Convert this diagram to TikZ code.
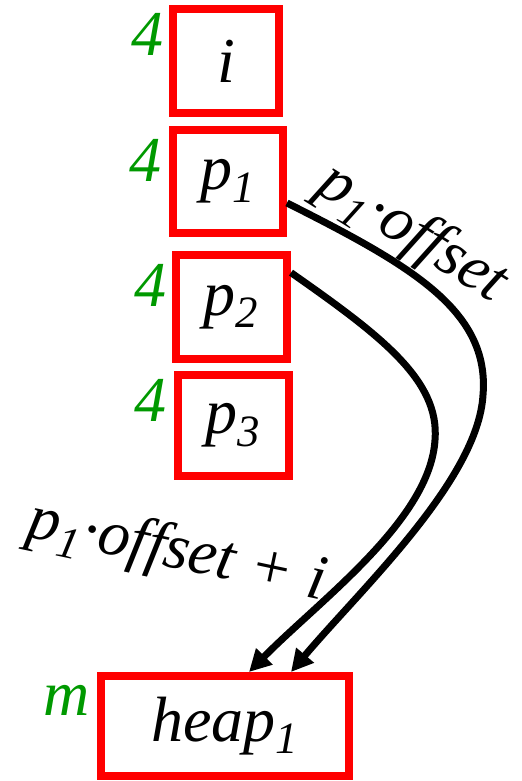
\documentclass[tikz,border=0pt]{standalone}
\usepackage{fontspec}
\setmainfont{Liberation Serif}
\usetikzlibrary{arrows.meta,calc}
\definecolor{cellred}{HTML}{FF0000}
\definecolor{sizegreen}{HTML}{009900}

\begin{document}
\begin{tikzpicture}[
  x=0.5pt, y=-0.5pt,
  font=\fontsize{32}{38}\selectfont\itshape, >={Triangle[length=11pt,width=11pt]},
  cell/.style={draw=cellred, line width=4pt, inner sep=0pt, minimum width=55pt, minimum height=52pt},
  numlab/.style={text=sizegreen, inner sep=0pt},
  ptr/.style={->, line width=3.5pt},
  lab/.style={inner sep=0pt}]
\useasboundingbox (0,0) rectangle (522,781);
% ---------------- cells (pixel positions)
\node[cell, minimum width=53pt] (ivar) at (226, 61) {i};
\node[cell, minimum height=51.5pt] (pone) at (228, 181.5) {p\textsubscript{1}};
\node[cell, minimum width=55.5pt] (ptwo) at (231.5, 307) {p\textsubscript{2}};
\node[cell, minimum width=55.5pt, minimum height=50.5pt] (pthree) at (233.5, 425.5) {p\textsubscript{3}};
\node[cell, minimum width=124pt, minimum height=50pt] (heap) at (225, 726) {heap\textsubscript{1}};
% ---------------- sizes
\node[numlab] (szi) at (147, 34) {4};
\node[numlab] (szone) at (145, 160) {4};
\node[numlab] (sztwo) at (150, 285) {4};
\node[numlab] (szthree) at (150, 400) {4};
\node[numlab] (szheap) at (67, 700) {m};
% ---------------- pointers
\draw[ptr] (pone.-20) .. controls (410, 265) and (490, 310) .. (483, 395)
  .. controls (478, 480) and (360, 590) .. ([xshift=33pt]heap.north);
\draw[ptr] (ptwo.30) .. controls (380, 335) and (440, 380) .. (435, 440)
  .. controls (430, 520) and (320, 600) .. ([xshift=12pt]heap.north);
\node[lab, rotate=-32] (offlab) at (412, 234) {p\textsubscript{1}·offset};
\node[lab, rotate=-12] (sumlab) at (177, 553) {p\textsubscript{1}·offset + i};
\end{tikzpicture}
\end{document}
